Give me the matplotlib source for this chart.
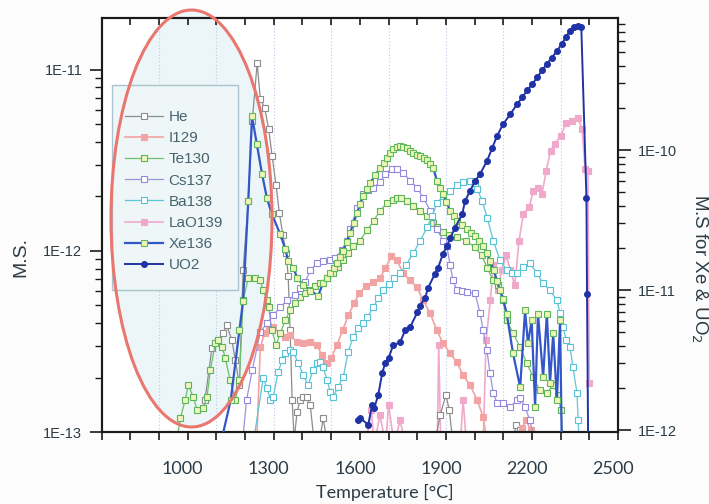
import numpy as np
import matplotlib
matplotlib.use("Agg")
import matplotlib.pyplot as plt
from matplotlib.patches import Ellipse, Rectangle
from matplotlib.ticker import MultipleLocator, FuncFormatter, FixedLocator, NullFormatter
from matplotlib.transforms import ScaledTranslation

# ---------------- data ----------------
UNIT_L = 1e-13   # left-axis series are given in units of 1E-13
UNIT_R = 1e-12   # right-axis series are given in units of 1E-12

he_T = [1060, 1084, 1105, 1124, 1136, 1154, 1166, 1180, 1193, 1211, 1225, 1242, 1253, 1268, 1282, 1294, 1308, 1319,
        1332, 1343, 1350, 1357, 1364, 1371, 1381, 1392, 1403, 1415, 1427, 1440, 1460, 1472, 1485, 1860, 1880, 1900,
        1912, 1925, 2130, 2145, 2160, 2175]
he_v = [1.50, 2.90, 3.21, 3.51, 3.89, 3.21, 2.49, 1.82, 7.81, 19.0, 52.4, 109, 69.2, 61.8, 47.3, 33.6, 23.0, 16.3,
        12.2, 9.69, 7.3, 3.65, 1.50, 0.90, 1.29, 1.50, 1.56, 1.56, 1.41, 0.90, 0.90, 1.19, 0.90, 0.85, 1.24, 1.60,
        1.32, 0.85, 0.85, 1.09, 1.03, 0.85]

i129_T = [1240, 1253, 1268, 1282, 1298, 1322, 1340, 1357, 1381, 1403, 1427, 1450, 1468, 1486, 1500, 1520, 1540,
          1560, 1580, 1598, 1620, 1645, 1670, 1688, 1710, 1730, 1751, 1775, 1799, 1821, 1845, 1868, 1890, 1915,
          1938, 1960, 1984, 2009, 2030, 2045, 2150, 2165, 2180, 2195, 2210]
i129_v = [0.85, 2.94, 3.51, 3.79, 3.79, 3.51, 3.34, 3.42, 3.13, 3.09, 3.13, 3.02, 2.66, 2.40, 2.56, 3.02, 3.65,
          4.41, 5.14, 5.83, 6.38, 6.71, 7.06, 8.01, 9.33, 8.87, 7.52, 6.88, 6.30, 5.34, 4.53, 3.65, 3.09, 2.72,
          2.43, 2.06, 1.82, 1.50, 1.21, 0.85, 0.85, 1.05, 1.16, 1.03, 0.85]

te_T = [960, 974, 991, 1002, 1019, 1033, 1054, 1067, 1079, 1096, 1106, 1120, 1131, 1148, 1166, 1180, 1193, 1211,
        1235, 1253, 1263, 1276, 1282, 1293, 1308, 1322, 1340, 1357, 1375, 1392, 1410, 1427, 1445, 1462, 1485, 1507,
        1525, 1542, 1560, 1577, 1600, 1625, 1648, 1671, 1695, 1716, 1729, 1745, 1765, 1786, 1810, 1835, 1855, 1870,
        1890, 1910, 1940, 1970, 2000, 2025, 2045, 2065, 2080, 2099, 2112, 2134, 2159, 2182, 2204, 2228, 2252, 2274,
        2291, 2301, 2310]
te_v = [0.85, 1.19, 1.50, 1.82, 1.56, 1.32, 1.36, 1.56, 2.20, 3.09, 3.21, 2.94, 2.56, 1.93, 1.50, 1.93, 5.34, 7.06,
        7.06, 6.88, 6.06, 5.34, 4.88, 3.65, 3.02, 3.51, 4.14, 4.70, 5.14, 5.55, 5.83, 6.06, 6.38, 6.62, 7.06, 7.52,
        8.11, 8.87, 9.69, 10.7, 11.4, 13.0, 14.7, 16.7, 18.5, 19.2, 19.7, 19.5, 19.0, 17.8, 16.7, 15.7, 14.3, 13.5,
        12.8, 12.2, 11.9, 11.4, 10.5, 9.45, 8.01, 6.88, 6.46, 5.34, 4.14, 3.51, 2.94, 2.40, 2.01, 1.70, 1.64, 1.82,
        1.60, 1.32, 0.85]

cs_T = [1190, 1205, 1225, 1253, 1276, 1298, 1322, 1346, 1375, 1392, 1409, 1427, 1450, 1472, 1497, 1514, 1537, 1555,
        1566, 1590, 1612, 1630, 1646, 1671, 1688, 1712, 1729, 1751, 1775, 1799, 1821, 1845, 1868, 1890, 1903, 1915,
        1925, 1938, 1955, 1973, 2002, 2019, 2030, 2043, 2054, 2065, 2078, 2100, 2124, 2147, 2159, 2176, 2193, 2204,
        2215]
cs_v = [0.85, 1.50, 2.20, 3.56, 3.99, 4.41, 4.88, 5.34, 5.69, 6.21, 6.71, 7.81, 8.53, 8.75, 8.87, 9.10, 10.1, 11.4,
        13.3, 17.2, 20.7, 21.8, 22.4, 23.9, 26.7, 28.5, 28.5, 27.1, 24.5, 22.4, 19.7, 16.7, 13.3, 11.4, 10.7, 8.32,
        6.88, 6.06, 6.00, 5.95, 5.83, 4.53, 3.65, 2.83, 2.11, 1.64, 1.45, 1.45, 1.37, 1.50, 1.54, 1.37, 1.16, 0.96,
        0.85]

ba_T = [1230, 1263, 1277, 1288, 1298, 1315, 1329, 1340, 1357, 1368, 1385, 1403, 1420, 1437, 1451, 1462, 1472, 1486,
        1497, 1507, 1524, 1542, 1559, 1577, 1595, 1612, 1626, 1646, 1665, 1681, 1700, 1720, 1740, 1760, 1786, 1810,
        1835, 1852, 1869, 1890, 1915, 1940, 1960, 1984, 2000, 2009, 2026, 2044, 2065, 2089, 2113, 2130, 2148, 2169,
        2193, 2218, 2239, 2263, 2287, 2298, 2308, 2320, 2333, 2343, 2357, 2361, 2365]
ba_v = [0.90, 1.98, 1.75, 1.50, 1.56, 2.14, 2.49, 2.72, 2.83, 2.76, 2.40, 2.06, 1.82, 2.20, 2.40, 2.43, 2.28, 1.93,
        1.66, 1.56, 1.77, 2.01, 2.76, 3.34, 3.74, 3.99, 4.30, 4.88, 5.48, 6.06, 6.54, 7.06, 7.52, 8.32, 9.69, 11.4,
        13.5, 15.7, 18.3, 20.2, 21.5, 23.0, 23.9, 24.5, 23.6, 22.1, 19.0, 15.3, 11.4, 8.87, 7.81, 7.52, 7.52, 8.11,
        8.53, 7.52, 6.62, 6.06, 5.34, 4.53, 3.79, 3.21, 2.94, 2.28, 1.64, 1.16, 0.85]

la_T = [1620, 1640, 1650, 1670, 1690, 1700, 1720, 1740, 1760, 1870, 1875, 1882, 1950, 1960, 1972, 2030, 2040, 2055,
        2065, 2080, 2095, 2110, 2125, 2140, 2155, 2170, 2190, 2205, 2220, 2235, 2250, 2265, 2280, 2300, 2320, 2340,
        2360, 2375, 2385, 2395, 2400]
la_v = [0.85, 1.32, 0.85, 1.24, 0.85, 1.41, 0.85, 1.16, 0.85, 0.85, 3.02, 0.85, 0.85, 1.50, 0.85, 0.85, 3.21, 5.34,
        8.32, 6.06, 7.81, 9.45, 7.81, 6.46, 11.4, 16.1, 17.4, 21.5, 22.4, 20.7, 27.8, 35.8, 39.1, 43.3, 51.1, 52.4,
        54.4, 47.3, 28.5, 27.8, 1.86]

xe_T = [1120, 1150, 1180, 1193, 1211, 1224, 1241, 1259, 1276, 1293, 1322, 1340, 1350, 1368, 1381, 1403, 1427, 1455,
        1472, 1484, 1497, 1509, 1521, 1532, 1542, 1554, 1566, 1578, 1590, 1601, 1612, 1624, 1636, 1653, 1671, 1683,
        1695, 1705, 1716, 1728, 1740, 1752, 1765, 1776, 1786, 1798, 1810, 1822, 1835, 1846, 1856, 1869, 1880, 1890,
        1902, 1915, 1927, 1938, 1955, 1973, 1988, 2002, 2016, 2030, 2042, 2054, 2066, 2078, 2088, 2099, 2112, 2134,
        2159, 2176, 2186, 2199, 2211, 2221, 2239, 2252, 2263, 2274, 2287, 2298, 2304]
xe_v = [0.89, 1.64, 5.15, 8.42, 43.4, 175, 110, 67.5, 45.5, 35.0, 25.2, 19.7, 16.2, 14.5, 12.3, 10.8, 9.92, 9.14,
        11.3, 12.3, 13.3, 14.4, 15.7, 17.3, 19.1, 22.2, 25.7, 30.2, 35.6, 41.0, 47.1, 52.5, 58.2, 66.0, 74.5, 81.0,
        87.7, 95.0, 102, 105, 107, 106, 103, 99.0, 95.2, 93.0, 90.7, 88.0, 84.9, 80.0, 74.5, 60.2, 54.0, 48.6,
        42.5, 36.8, 33.8, 31.2, 29.2, 27.4, 25.8, 24.4, 22.5, 20.7, 18.4, 16.2, 14.0, 11.7, 10.0, 8.70, 6.80, 3.53,
        2.02, 7.15, 4.16, 6.07, 1.46, 6.80, 2.38, 6.80, 2.16, 4.90, 1.64, 6.07, 0.78]

uo_T = [1595, 1601, 1629, 1643, 1650, 1664, 1678, 1688, 1700, 1716, 1740, 1758, 1775, 1800, 1810, 1828, 1838, 1862,
        1873, 1890, 1904, 1915, 1932, 1957, 1967, 1984, 2002, 2019, 2043, 2061, 2078, 2099, 2124, 2148, 2166, 2183,
        2200, 2218, 2235, 2253, 2270, 2288, 2305, 2319, 2333, 2347, 2361, 2372, 2390, 2392, 2396]
uo_v = [1.18, 1.22, 1.09, 1.51, 1.43, 1.78, 2.55, 3.00, 3.26, 4.03, 4.23, 5.15, 5.41, 6.92, 7.76, 8.84, 10.4, 13.1,
        14.5, 18.2, 20.7, 23.6, 27.9, 35.0, 43.4, 51.1, 60.2, 67.5, 83.5, 103, 126, 153, 180, 213, 238, 267, 295,
        331, 371, 416, 459, 515, 578, 648, 715, 763, 776, 763, 45.5, 9.44, 0.78]

x_tick_labels = [1000, 1300, 1600, 1900, 2200, 2500]
x_grid = [900, 1100, 1300, 1500, 1700, 1900, 2100, 2300]
left_decades = [1e-13, 1e-12, 1e-11]
right_decades = [1e-12, 1e-11, 1e-10]

# ---------------- figure ----------------
W, H = 709, 504
fig = plt.figure(figsize=(W / 100, H / 100), dpi=100, facecolor='#fcfcfd')
x0, x1, y0, y1 = 101.7, 618.0, 18.0, 432.0
ax = fig.add_axes([x0 / W, 1 - y1 / H, (x1 - x0) / W, (y1 - y0) / H])
ax.set_facecolor('white')
ax2 = ax.twinx()

TXT = '#2c3b44'
SANS = ['Liberation Sans', 'DejaVu Sans']
LATO = ['Lato', 'DejaVu Sans']


def fx(px):
    return px / W


def fy(py):
    return 1 - py / H


# shaded ellipse (fill below data, outline on top)
ecx, ecy, ew, eh = 191.5, 218.5, 161, 417
ax.add_artist(Ellipse((fx(ecx), fy(ecy)), ew / W, eh / H, transform=fig.transFigure,
                      facecolor='#ecf5f8', edgecolor='none', zorder=0.5, clip_on=False))
fig.add_artist(Ellipse((fx(ecx), fy(ecy)), ew / W, eh / H, transform=fig.transFigure,
                       facecolor='none', edgecolor='#e9766f', lw=2.2, zorder=7))

for g in x_grid:
    ax.axvline(g, color='#b9c9e6', lw=0.8, ls=(0, (1, 2)), zorder=0.6)


def series(axx, T, v, unit, color, mec, mfc, marker, label, lw=0.9, ms=4.2, z=2):
    return axx.plot(np.array(T), np.array(v) * unit, color=color, lw=lw, marker=marker, ms=ms,
                    mec=mec, mfc=mfc, mew=0.8, label=label, zorder=z)[0]


h_he = series(ax, he_T, he_v, UNIT_L, '#8c8c8c', '#8c8c8c', 'white', 's', 'He')
h_i = series(ax, i129_T, i129_v, UNIT_L, '#f2a3a3', '#f2a3a3', '#f2a3a3', 's', 'I129', lw=1.2)
h_te = series(ax, te_T, te_v, UNIT_L, '#6cc06a', '#5db35a', '#eef6bd', 's', 'Te130')
h_cs = series(ax, cs_T, cs_v, UNIT_L, '#9d93de', '#9288dc', 'white', 's', 'Cs137')
h_ba = series(ax, ba_T, ba_v, UNIT_L, '#5ec6d8', '#55c2d6', 'white', 's', 'Ba138')
h_la = series(ax, la_T, la_v, UNIT_L, '#f1a9cb', '#f1a9cb', '#f1a9cb', 's', 'LaO139', lw=1.2, z=1.8)

h_xe = series(ax2, xe_T, xe_v, UNIT_R, '#3356c9', '#5db85e', '#eef4b4', 's', 'Xe136', lw=1.6, z=3)
h_uo = series(ax2, uo_T, uo_v, UNIT_R, '#1f33a6', '#1f33a6', '#1f33a6', 'o', 'UO2', lw=1.4, ms=4.2, z=4)

# axes scales / limits
ax.set_xlim(700, 2500)
ax.set_yscale('log')
ax.set_ylim(1e-13, 10 ** -10.713)
ax2.set_yscale('log')
ax2.set_ylim(10 ** -12.014, 10 ** -9.0555)


def sci(v, pos):
    return '1E%d' % int(round(np.log10(v)))


for a, dec in ((ax, left_decades), (ax2, right_decades)):
    lo, hi = a.get_ylim()
    minors = [d * k for d in [dec[0] / 10] + dec for k in range(2, 10) if lo <= d * k <= hi]
    a.yaxis.set_major_locator(FixedLocator(dec))
    a.yaxis.set_minor_locator(FixedLocator(minors))
    a.yaxis.set_major_formatter(FuncFormatter(sci))
    a.yaxis.set_minor_formatter(NullFormatter())

ax.xaxis.set_major_locator(FixedLocator(list(range(700, 2501, 100))))
ax.xaxis.set_major_formatter(FuncFormatter(lambda v, p: '%d' % v if int(round(v)) in x_tick_labels else ''))

ax.tick_params(axis='x', which='major', direction='out', length=6, width=1.2, color='#1a1a1a',
               labelsize=13, labelcolor=TXT, pad=15, top=False)
ax.tick_params(axis='y', which='major', direction='out', length=9, width=1.2, color='#1a1a1a',
               labelsize=10.5, labelcolor=TXT, pad=5)
ax.tick_params(axis='y', which='minor', direction='out', length=5, width=1.0, color='#1a1a1a')
ax2.tick_params(axis='y', which='major', direction='out', length=9, width=1.2, color='#1a1a1a',
                labelsize=10.5, labelcolor=TXT, pad=5)
ax2.tick_params(axis='y', which='minor', direction='out', length=5, width=1.0, color='#1a1a1a')

# top ticks (pointing inward) drawn by the twin axes
ax2.xaxis.set_visible(True)
ax2.tick_params(axis='x', which='major', bottom=False, top=True, labelbottom=False, labeltop=False,
                direction='in', length=5, width=1.2, color='#1a1a1a')

for lab in ax.get_xticklabels():
    lab.set_fontfamily(LATO)
    lab.set_transform(lab.get_transform() + ScaledTranslation(-5 / 100, 0, fig.dpi_scale_trans))
for lab in ax.get_yticklabels() + ax2.get_yticklabels():
    lab.set_fontfamily(SANS)

for a in (ax, ax2):
    for s in a.spines.values():
        s.set_linewidth(1.5)
        s.set_color('#1a1a1a')

# axis titles
fig.text(fx(385), fy(492), 'Temperature [°C]', ha='center', va='center', fontsize=13,
         color=TXT, family=LATO)
fig.text(fx(21), fy(257), 'M.S.', ha='center', va='center', rotation=90, fontsize=14,
         color=TXT, family=SANS)
fig.text(fx(699), fy(268), 'M.S for Xe & UO$_2$', ha='center', va='center', rotation=270,
         fontsize=13.5, color=TXT, family=SANS)

# legend: frame drawn as a box, entries placed inside it
fig.add_artist(Rectangle((fx(112), fy(290)), 126 / W, 205 / H, transform=fig.transFigure,
                         facecolor='#eef6f8', edgecolor='#a9c4ce', lw=1.0, zorder=5))
handles = [h_he, h_i, h_te, h_cs, h_ba, h_la, h_xe, h_uo]
leg = fig.legend(handles=handles, loc='upper left', bbox_to_anchor=(fx(125), fy(110)),
                 bbox_transform=fig.transFigure, borderaxespad=0, borderpad=0,
                 prop={'family': SANS, 'size': 11}, labelcolor='#47646e', frameon=False,
                 handlelength=2.5, handletextpad=0.35, labelspacing=0.47)
leg.set_zorder(6)

fig.savefig('out.png', dpi=100, facecolor=fig.get_facecolor())
